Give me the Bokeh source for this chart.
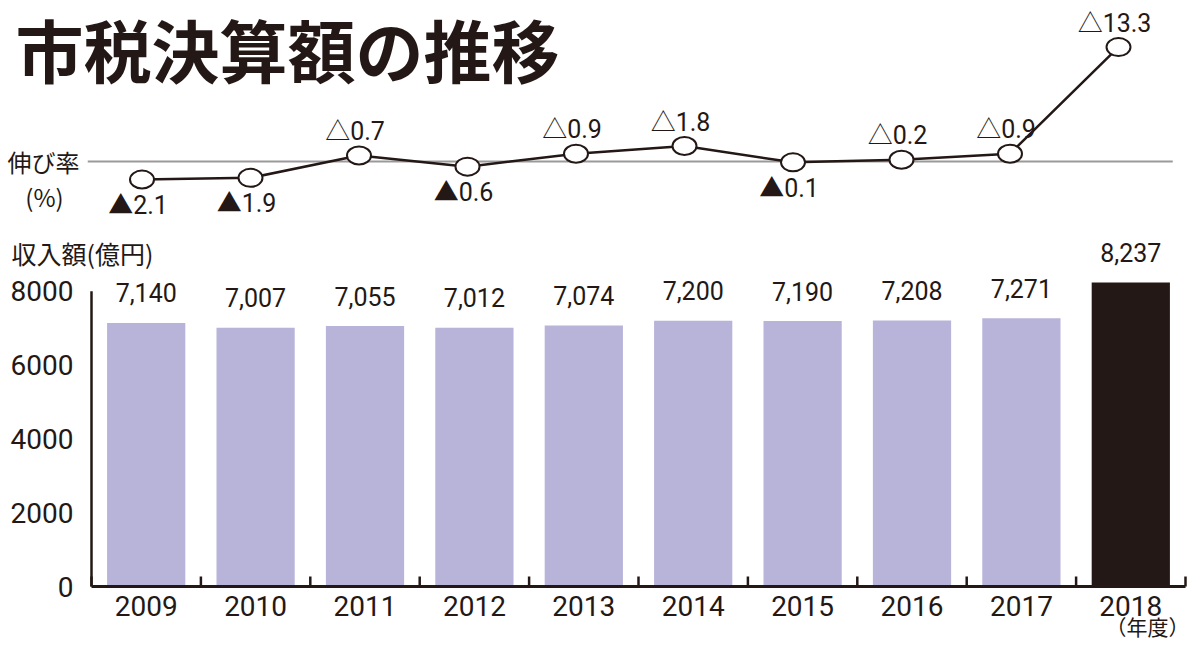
import math
from bokeh.plotting import figure
from bokeh.models import ColumnDataSource, Range1d, Label
from bokeh.core.properties import value
from bokeh.embed import file_html
from bokeh.resources import INLINE

# ---- data ----
years = ["2009", "2010", "2011", "2012", "2013", "2014", "2015", "2016", "2017", "2018"]
revenue = [7140, 7007, 7055, 7012, 7074, 7200, 7190, 7208, 7271, 8237]   # 億円
growth = [-2.1, -1.9, 0.7, -0.6, 0.9, 1.8, -0.1, 0.2, 0.9, 13.3]          # %
y_ticks = [0, 2000, 4000, 6000, 8000]

INK = "#231815"
BAR = "#b8b3d9"
NUM_FONT = "Roboto, 'Noto Sans CJK JP'"
JP_FONT = "Noto Sans CJK JP"

# ---- geometry (pixels) ----
W, H = 1192, 645
AX_LEFT, AX_RIGHT, AX_BOTTOM = 91, 1185, 586   # plot area of the bar chart
bar_px = 0.03691          # pixels per 億円
rate_px = 8.6             # pixels per %
rate_zero = 161           # px of 0 % from top
rate_x0, rate_dx = 87.25, 108.5   # rate series horizontal placement

n = len(years)
cat_px = (AX_RIGHT - AX_LEFT) / n
xs = [i + 0.5 for i in range(n)]

src = ColumnDataSource(dict(
    x=xs,
    year=years,
    rev=revenue,
    rev_label=[f"{v:,}" for v in revenue],
    color=[BAR] * (n - 1) + [INK],
    g=growth,
    g_label=[("△" if v >= 0 else "▲") + f"{abs(v):.1f}" for v in growth],
    g_off=[-24 if v >= 0 else 26 for v in growth],
))
ticks_src = ColumnDataSource(dict(y=y_ticks, label=[str(t) for t in y_ticks]))

p = figure(width=W, height=H, output_backend="svg", toolbar_location=None,
           x_range=Range1d(-AX_LEFT / cat_px, n + (W - AX_RIGHT) / cat_px),
           y_range=Range1d(-(H - AX_BOTTOM) / bar_px, AX_BOTTOM / bar_px),
           x_axis_location=None, y_axis_location=None,
           min_border=0)
p.extra_y_ranges = {"rate": Range1d(-(H - rate_zero) / rate_px, rate_zero / rate_px)}
p.extra_x_ranges = {"rate": Range1d(-rate_x0 / rate_dx, (W - rate_x0) / rate_dx)}
p.grid.visible = False
p.outline_line_color = None
p.background_fill_color = "white"
p.border_fill_color = "white"

# bars
p.vbar(x="x", top="rev", width=0.715, source=src, fill_color="color", line_color=None)
p.text(x="x", y="rev", text="rev_label", source=src, text_align="center",
       text_baseline="middle", y_offset=-30, text_font=value(NUM_FONT),
       text_font_size="25px", text_color=INK)

# axes (drawn on the chart's own scales)
p.segment(x0=0, y0=0, x1=0, y1=max(y_ticks), line_color=INK, line_width=2.5)
p.segment(x0=0, y0=0, x1=n, y1=0, line_color=INK, line_width=3)
p.ray(x=list(range(n + 1)), y=0, length=10, length_units="screen", angle=math.pi / 2,
      line_color=INK, line_width=2.5)
p.text(x=0, y="y", text="label", source=ticks_src, text_align="right",
       text_baseline="middle", x_offset=-18, text_font=value(NUM_FONT),
       text_font_size="28px", text_color=INK)
p.text(x="x", y=0, text="year", source=src, text_align="center",
       text_baseline="middle", y_offset=19, text_font=value(NUM_FONT),
       text_font_size="28px", text_color=INK)

# growth-rate line
p.segment(x0=0, x1=n, y0=0, y1=0, x_range_name="rate", y_range_name="rate",
          line_color="#9a9a9a", line_width=2)
p.line(x="x", y="g", source=src, x_range_name="rate", y_range_name="rate",
       line_color=INK, line_width=2.5)
p.ellipse(x="x", y="g", width=24, height=18, width_units="screen", height_units="screen",
          source=src, x_range_name="rate", y_range_name="rate",
          fill_color="white", line_color=INK, line_width=2)
p.text(x="x", y="g", text="g_label", source=src, x_range_name="rate", y_range_name="rate",
       text_align="center", text_baseline="middle", x_offset=-4, y_offset="g_off",
       text_font=value(NUM_FONT), text_font_size="25px", text_color=INK)

# texts placed in canvas units
def note(text, x, y, size, align="left", bold=False):
    p.add_layout(Label(text=text, x=x, y=y, x_units="canvas", y_units="canvas",
                       text_font=JP_FONT, text_font_size=size, text_color=INK,
                       text_font_style="bold" if bold else "normal",
                       text_baseline="middle", text_align=align))

note("市税決算額の推移", 15, 48, "68px", bold=True)
note("伸び率", 7, 161, "24px")
note("(%)", 44, 196, "24px", align="center")
note("収入額(億円)", 11, 252, "25px")
note("（年度）", 1147, 625, "21px", align="center")

open("out.html", "w").write(file_html(p, INLINE))
